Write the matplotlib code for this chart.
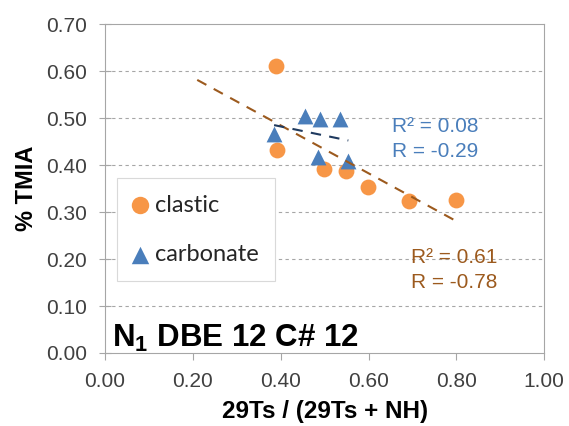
import numpy as np
import matplotlib
matplotlib.use("Agg")
import matplotlib.pyplot as plt

plt.rcParams['font.family'] = ['Liberation Sans', 'DejaVu Sans']
plt.rcParams['mathtext.fontset'] = 'custom'
plt.rcParams['mathtext.rm'] = 'Liberation Sans'
plt.rcParams['mathtext.bf'] = 'Liberation Sans:bold'

# data
clastic_x = [0.389, 0.391, 0.498, 0.549, 0.599, 0.692, 0.800]
clastic_y = [0.610, 0.431, 0.392, 0.387, 0.353, 0.323, 0.325]
carb_x = [0.385, 0.455, 0.489, 0.536, 0.486, 0.554]
carb_y = [0.467, 0.505, 0.499, 0.497, 0.418, 0.409]
clastic_fit_range = [0.21, 0.80]

orange = "#F79646"
blue = "#4A7EBB"
brown = "#9C5A1E"
navy = "#1F3A5F"
grey = "#A6A6A6"

fig = plt.figure(figsize=(5.69, 4.26), dpi=100)
ax = fig.add_axes([0.1845, 0.1714, 0.772, 0.772])

ax.set_xlim(0, 1.0)
ax.set_ylim(0, 0.70)
ax.set_xticks(np.arange(0, 1.01, 0.2))
ax.set_yticks(np.arange(0, 0.71, 0.1))
ax.xaxis.set_major_formatter(matplotlib.ticker.FormatStrFormatter('%.2f'))
ax.yaxis.set_major_formatter(matplotlib.ticker.FormatStrFormatter('%.2f'))
ax.tick_params(labelsize=15, labelcolor="#404040", color=grey)
ax.tick_params(axis='y', direction='inout', length=8, pad=9)
ax.tick_params(axis='x', direction='out', length=5, pad=9)
for s in ax.spines.values():
    s.set_color(grey)
for yv in np.arange(0.1, 0.65, 0.1):
    ax.axhline(yv, color="#A6A6A6", ls=(0, (3, 3)), lw=0.8, zorder=0)

# trendlines
p = np.polyfit(clastic_x, clastic_y, 1)
xs = np.array(clastic_fit_range)
ax.plot(xs, np.polyval(p, xs), color=brown, ls=(0, (5, 4)), lw=1.5, zorder=3)
q = np.polyfit(carb_x, carb_y, 1)
xs2 = np.array([min(carb_x), max(carb_x)])
ax.plot(xs2, np.polyval(q, xs2), color=navy, ls=(0, (5, 4)), lw=1.5, zorder=3)

ax.scatter(clastic_x, clastic_y, s=130, color=orange, marker='o', lw=0, zorder=2, label="clastic")
ax.scatter(carb_x, carb_y, s=130, color=blue, marker='^', lw=0, zorder=2, label="carbonate")

leg = ax.legend(loc='upper left', bbox_to_anchor=(0.027, 0.532), borderaxespad=0,
                frameon=True, fancybox=False, edgecolor="#D9D9D9",
                prop={'family': 'Lato', 'size': 17}, handletextpad=0.3,
                labelspacing=1.2, borderpad=0.7, handlelength=0.6,
                framealpha=1, scatterpoints=1, markerscale=1.1)
leg.get_frame().set_linewidth(0.8)
for t in leg.get_texts():
    t.set_color("#262626")

ax.text(0.653, 0.456, "R² = 0.08\nR = -0.29", color=blue, fontsize=15,
        ha='left', va='center', linespacing=1.4)
ax.text(0.697, 0.177, "R² = 0.61\nR = -0.78", color=brown, fontsize=15,
        ha='left', va='center', linespacing=1.4)

ax.text(0.017, 0.014, r"$\mathbf{N_1}$ DBE 12 C# 12", fontsize=22.5, fontweight='bold',
        ha='left', va='baseline', color='black')

ax.set_xlabel("29Ts / (29Ts + NH)", fontsize=17.5, fontweight='bold', labelpad=6)
ax.set_ylabel("% TMIA", fontsize=17, fontweight='bold', labelpad=6)

fig.savefig("out.png", dpi=100)
